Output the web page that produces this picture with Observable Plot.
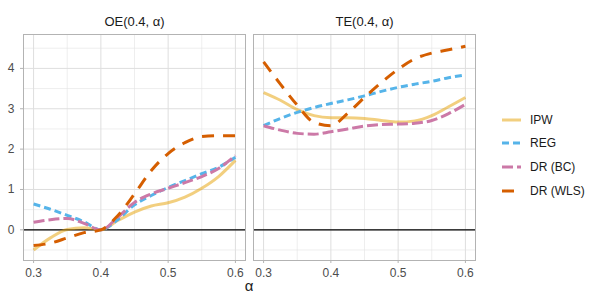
<!DOCTYPE html>
<html>
<head>
<meta charset="utf-8">
<script src="https://cdn.jsdelivr.net/npm/d3@7"></script>
<script src="https://cdn.jsdelivr.net/npm/@observablehq/plot@0.6"></script>
<style>
  html, body { margin: 0; padding: 0; background: #fff; }
  #wrap { position: relative; width: 600px; height: 300px; font-family: "Liberation Sans", Arial, sans-serif; }
  #chart { position: absolute; left: 0; top: 0; }
  .xlab { position: absolute; left: 241px; top: 277px; width: 16px; text-align: center; font-size: 15px; color: #1a1a1a; }
  .leg { position: absolute; left: 500px; height: 16px; display: flex; align-items: center; font-size: 12px; color: #1a1a1a; }
  .leg svg { margin-right: 8px; }
</style>
</head>
<body>
<div id="wrap">
  <div id="chart"></div>
  <div class="xlab">α</div>
  <div id="legend"></div>
</div>
<script>
// ---- data ----
const panels = ["OE", "TE"];
const panelTitles = ["OE(0.4, α)", "TE(0.4, α)"];
const methods = ["IPW", "REG", "DR (BC)", "DR (WLS)"];
const alpha = [0.3, 0.325, 0.35, 0.375, 0.4, 0.425, 0.45, 0.475, 0.5, 0.525, 0.55, 0.575, 0.6];

const oeIPW = [-0.50, -0.20, 0.01, 0.05, 0.00, 0.23, 0.44, 0.59, 0.67, 0.81, 1.03, 1.32, 1.72];
const oeREG = [0.64, 0.51, 0.36, 0.20, 0.00, 0.25, 0.62, 0.85, 1.05, 1.22, 1.39, 1.55, 1.80];
const oeBC  = [0.19, 0.25, 0.28, 0.16, 0.00, 0.31, 0.68, 0.89, 1.03, 1.17, 1.32, 1.52, 1.84];
const oeWLS = [-0.39, -0.33, -0.20, -0.07, 0.00, 0.35, 0.89, 1.47, 1.89, 2.16, 2.31, 2.33, 2.33];

const teIPW = [3.40, 3.21, 2.98, 2.83, 2.78, 2.78, 2.76, 2.71, 2.67, 2.70, 2.83, 3.05, 3.28];
const teREG = [2.58, 2.76, 2.91, 3.03, 3.13, 3.22, 3.32, 3.43, 3.53, 3.61, 3.68, 3.77, 3.84];
const teBC  = [2.58, 2.47, 2.39, 2.37, 2.43, 2.50, 2.57, 2.61, 2.62, 2.64, 2.71, 2.88, 3.11];
const teWLS = [4.16, 3.61, 3.09, 2.66, 2.58, 2.89, 3.28, 3.65, 3.98, 4.24, 4.38, 4.46, 4.55];

const xTicks = [0.3, 0.4, 0.5, 0.6];
const xMinor = [0.35, 0.45, 0.55];
const yTicks = [0, 1, 2, 3, 4];
const yMinor = [-0.5, 0.5, 1.5, 2.5, 3.5, 4.5];

const colors = ["#E69F00", "#56B4E9", "#CC79A7", "#D55E00"];
const opac = [0.5, 1, 1, 1];
const dashes = ["none", "7,4", "11,4", "12,9"];

// ---- build table ----
const seriesByPanel = { OE: [oeIPW, oeREG, oeBC, oeWLS], TE: [teIPW, teREG, teBC, teWLS] };
const rows = [];
panels.forEach(p => seriesByPanel[p].forEach((vals, mi) => {
  vals.forEach((v, i) => rows.push({ panel: p, method: methods[mi], a: alpha[i], v }));
}));

const lineMarks = methods.map((m, mi) =>
  Plot.line(rows.filter(d => d.method === m), {
    fx: "panel", x: "a", y: "v", curve: "monotone-x",
    stroke: colors[mi], strokeOpacity: opac[mi], strokeWidth: 3,
    strokeDasharray: dashes[mi], strokeLinecap: "butt", strokeLinejoin: "round"
  })
);

const chart = Plot.plot({
  width: 480, height: 300,
  marginLeft: 22, marginRight: 4, marginTop: 34, marginBottom: 40,
  style: { fontFamily: "'Liberation Sans', Arial, sans-serif", fontSize: "12px", background: "white" },
  fx: { domain: panels, paddingInner: 0.033, paddingOuter: 0, axis: null },
  x: { domain: [0.285, 0.615], axis: null },
  y: { domain: [-0.76, 4.84], axis: null },
  marks: [
    Plot.gridX(xMinor, { stroke: "#e3e3e3", strokeOpacity: 1, strokeWidth: 0.6 }),
    Plot.gridY(yMinor, { stroke: "#e3e3e3", strokeOpacity: 1, strokeWidth: 0.6 }),
    Plot.gridX(xTicks, { stroke: "#dedede", strokeOpacity: 1, strokeWidth: 1 }),
    Plot.gridY(yTicks, { stroke: "#dedede", strokeOpacity: 1, strokeWidth: 1 }),
    Plot.ruleY([0], { stroke: "#000", strokeWidth: 1.3 }),
    ...lineMarks,
    Plot.frame({ stroke: "#b3b3b3", strokeWidth: 1 }),
    Plot.axisX(xTicks, { anchor: "bottom", tickSize: 3, tickFormat: () => "", stroke: "#b3b3b3", label: null }),
    Plot.axisX(xTicks, { anchor: "bottom", tickSize: 0, tickPadding: 8, tickFormat: d3.format(".1f"), fill: "#4d4d4d", fontSize: 12, label: null }),
    Plot.axisY(yTicks, { anchor: "left", tickSize: 3, tickFormat: () => "", stroke: "#b3b3b3", label: null }),
    Plot.axisY(yTicks, { anchor: "left", tickSize: 0, tickPadding: 9, tickFormat: d3.format("d"), fill: "#4d4d4d", fontSize: 12, label: null }),
    Plot.text(panels, { fx: d => d, text: d => panelTitles[panels.indexOf(d)], frameAnchor: "top", lineAnchor: "middle", dy: -13, fontSize: 13, fill: "#1a1a1a" })
  ]
});
document.getElementById("chart").appendChild(chart);

// ---- legend ----
const legTops = [112, 135, 159, 183];
const legend = document.getElementById("legend");
methods.forEach((m, i) => {
  const row = document.createElement("div");
  row.className = "leg";
  row.style.top = legTops[i] + "px";
  row.innerHTML = `<svg width="22" height="16"><line x1="2" x2="21" y1="8" y2="8" stroke="${colors[i]}" stroke-opacity="${opac[i]}" stroke-width="3" stroke-dasharray="${dashes[i]}" stroke-linecap="butt"/></svg><span>${m}</span>`;
  legend.appendChild(row);
});
</script>
</body>
</html>
